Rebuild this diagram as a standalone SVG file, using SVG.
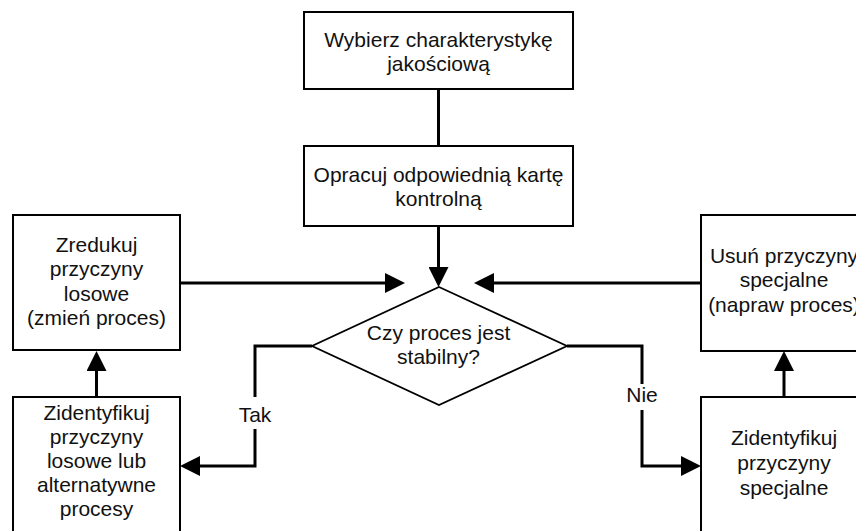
<svg xmlns="http://www.w3.org/2000/svg" width="856" height="531" viewBox="0 0 856 531">
  <style>
    .box { fill: #fff; stroke: #000; stroke-width: 2; }
    .dec { fill: #fff; stroke: #000; stroke-width: 1.8; }
    .lbl { font-family: "Liberation Sans", Arial, sans-serif; font-size: 21px; fill: #111; text-anchor: middle; }
    .wire { fill: none; stroke: #000; stroke-width: 3; }
    .gap { fill: #fff; stroke: none; }
  </style>
  <defs>
    <marker id="arrow" viewBox="0 0 20 20" refX="2" refY="10" markerWidth="20" markerHeight="20" markerUnits="userSpaceOnUse" orient="auto">
      <path d="M0,0 L20,10 L0,20 z" fill="#000"/>
    </marker>
  </defs>

  <!-- connectors -->
  <g id="connectors">
    <path class="wire" d="M438.5,89 L438.5,146"/>
    <path class="wire" d="M438.5,226 L438.5,269" marker-end="url(#arrow)"/>
    <path class="wire" d="M180,283 L387,283" marker-end="url(#arrow)"/>
    <path class="wire" d="M701,283 L492,283" marker-end="url(#arrow)"/>
    <path class="wire" d="M96.5,397 L96.5,369" marker-end="url(#arrow)"/>
    <path class="wire" d="M784,397 L784,369" marker-end="url(#arrow)"/>
    <path class="wire" d="M312,346 L255,346 L255,466 L198,466" marker-end="url(#arrow)"/>
    <path class="wire" d="M567,346 L642,346 L642,466 L683,466" marker-end="url(#arrow)"/>
    <rect class="gap" x="238" y="397" width="34" height="32"/>
    <text class="lbl" x="255" y="422">Tak</text>
    <rect class="gap" x="625" y="384" width="34" height="26"/>
    <text class="lbl" x="642" y="402">Nie</text>
  </g>

  <g id="select-characteristic">
    <rect class="box" x="304" y="12" width="269" height="77"/>
    <text class="lbl" x="438.5" y="47">Wybierz charakterystykę</text>
    <text class="lbl" x="438.5" y="71">jakościową</text>
  </g>

  <g id="control-chart">
    <rect class="box" x="304" y="146" width="269" height="80"/>
    <text class="lbl" x="438.5" y="182">Opracuj odpowiednią kartę</text>
    <text class="lbl" x="438.5" y="206">kontrolną</text>
  </g>

  <g id="stable-decision">
    <polygon class="dec" points="439,287 567,346 439,405 312,346"/>
    <text class="lbl" x="438.5" y="340">Czy proces jest</text>
    <text class="lbl" x="438.5" y="364">stabilny?</text>
  </g>

  <g id="reduce-random">
    <rect class="box" x="13" y="215" width="167" height="135"/>
    <text class="lbl" x="96.5" y="252">Zredukuj</text>
    <text class="lbl" x="96.5" y="276">przyczyny</text>
    <text class="lbl" x="96.5" y="301">losowe</text>
    <text class="lbl" x="96.5" y="325">(zmień proces)</text>
  </g>

  <g id="identify-random">
    <rect class="box" x="13" y="397" width="167" height="145"/>
    <text class="lbl" x="96.5" y="420">Zidentyfikuj</text>
    <text class="lbl" x="96.5" y="444">przyczyny</text>
    <text class="lbl" x="96.5" y="468">losowe lub</text>
    <text class="lbl" x="96.5" y="492">alternatywne</text>
    <text class="lbl" x="96.5" y="516">procesy</text>
  </g>

  <g id="remove-special">
    <rect class="box" x="701" y="215" width="166" height="136"/>
    <text class="lbl" x="784" y="263">Usuń przyczyny</text>
    <text class="lbl" x="784" y="287">specjalne</text>
    <text class="lbl" x="784" y="312">(napraw proces)</text>
  </g>

  <g id="identify-special">
    <rect class="box" x="701" y="397" width="166" height="145"/>
    <text class="lbl" x="784" y="445">Zidentyfikuj</text>
    <text class="lbl" x="784" y="470">przyczyny</text>
    <text class="lbl" x="784" y="495">specjalne</text>
  </g>
</svg>
